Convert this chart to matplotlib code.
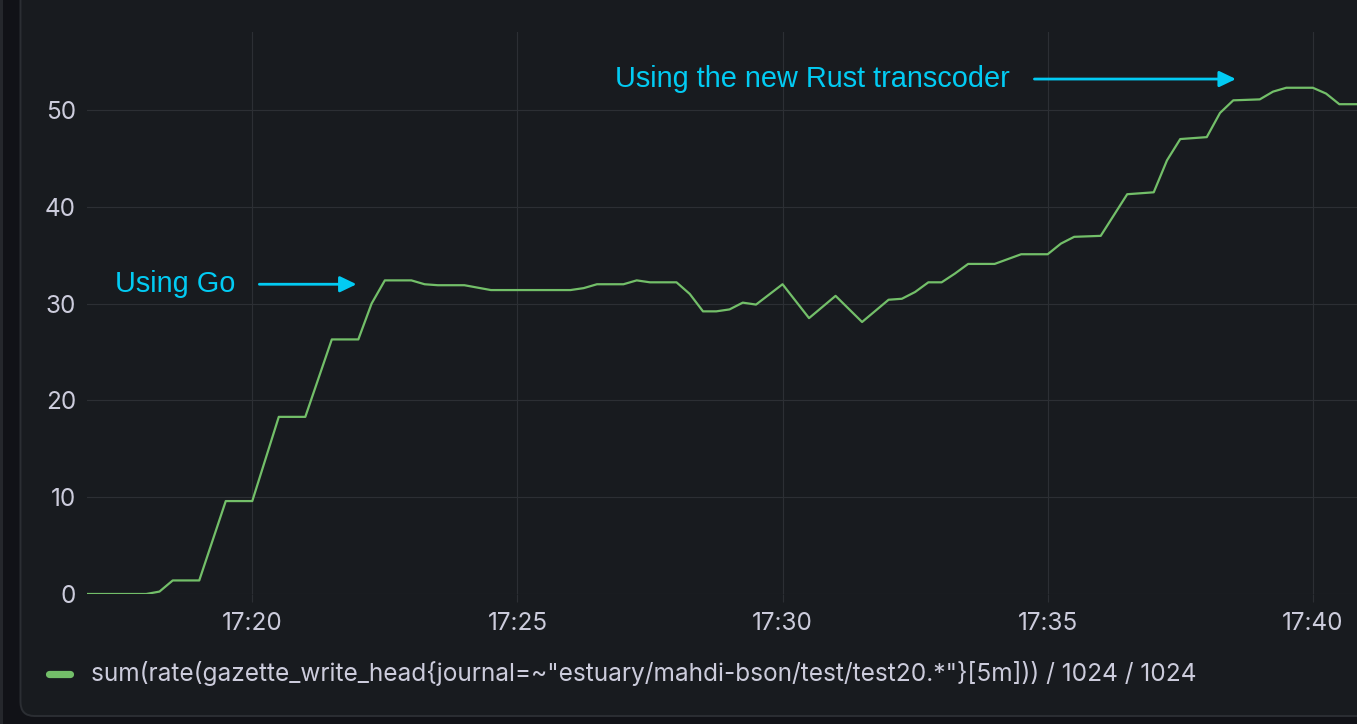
import matplotlib
matplotlib.use("Agg")
import matplotlib.pyplot as plt
import matplotlib.dates as mdates
import pandas as pd
from matplotlib.patches import FancyBboxPatch

# write throughput in MiB/s, vertices (15s step)
times = ["17:16:45", "17:18:00", "17:18:15", "17:18:30", "17:19:00", "17:19:30",
         "17:20:00", "17:20:30", "17:21:00", "17:21:30", "17:22:00", "17:22:15",
         "17:22:30", "17:23:00", "17:23:15", "17:23:30", "17:24:00", "17:24:30",
         "17:26:00", "17:26:15", "17:26:30", "17:27:00", "17:27:15", "17:27:30",
         "17:28:00", "17:28:15", "17:28:30", "17:28:45", "17:29:00", "17:29:15",
         "17:29:30", "17:30:00", "17:30:30", "17:31:00", "17:31:30", "17:32:00",
         "17:32:15", "17:32:30", "17:32:45", "17:33:00", "17:33:15", "17:33:30",
         "17:34:00", "17:34:30", "17:35:00", "17:35:15", "17:35:30", "17:36:00",
         "17:36:30", "17:37:00", "17:37:15", "17:37:30", "17:38:00", "17:38:15",
         "17:38:30", "17:39:00", "17:39:15", "17:39:30", "17:40:00", "17:40:15",
         "17:40:30", "17:41:00"]
values = [0, 0, 0.25, 1.4, 1.4, 9.6,
          9.6, 18.3, 18.3, 26.3, 26.3, 30.0,
          32.4, 32.4, 32.0, 31.9, 31.9, 31.4,
          31.4, 31.6, 32.0, 32.0, 32.4, 32.2,
          32.2, 31.0, 29.2, 29.2, 29.4, 30.1,
          29.9, 32.0, 28.5, 30.8, 28.1, 30.4,
          30.5, 31.2, 32.2, 32.2, 33.1, 34.1,
          34.1, 35.1, 35.1, 36.2, 36.9, 37.0,
          41.3, 41.5, 44.8, 47.0, 47.2, 49.7,
          51.0, 51.1, 51.9, 52.3, 52.3, 51.7,
          50.6, 50.6]
yticks = [0, 10, 20, 30, 40, 50]
legend_label = 'sum(rate(gazette_write_head{journal=~"estuary/mahdi-bson/test/test20.*"}[5m])) / 1024 / 1024'

# hand-drawn notes on the screenshot
notes = [
    {"text": "Using Go", "text_at": "17:17:25", "y": 32.0,
     "arrow_from": "17:20:08", "arrow_to": "17:21:58"},
    {"text": "Using the new Rust transcoder", "text_at": "17:26:50", "y": 53.2,
     "arrow_from": "17:34:45", "arrow_to": "17:38:33"},
]

day = "2024-01-01 "
def ts(t):
    return pd.to_datetime(day + t)

x = [ts(t) for t in times]

W, H = 1357, 724
fig = plt.figure(figsize=(W / 100, H / 100), dpi=100, facecolor="#111217")

# background layer in pixel coords (panel frame)
bg = fig.add_axes([0, 0, 1, 1])
bg.set_xlim(0, W)
bg.set_ylim(H, 0)
bg.axis("off")
bg.add_patch(plt.Rectangle((0, 0), 3, H, facecolor="#25272c", edgecolor="none"))
bg.add_patch(FancyBboxPatch((20.5, -40), W + 40, 756, boxstyle="round,pad=0,rounding_size=14",
                            facecolor="#181b1f", edgecolor="#2b2e33", linewidth=1.4))

green = "#73bf69"
text_col = "#ccccdc"
grid_col = "#2c2f34"
cyan = "#02cbf3"

ax = fig.add_axes([87 / W, (H - 594) / H, (W - 87) / W, (594 - 32) / H])
ax.set_facecolor("none")
ax.plot(x, values, color=green, linewidth=1.6, solid_joinstyle="round", clip_on=True)

ax.set_xlim(ts("17:16:53"), ts("17:40:50"))
ax.set_ylim(0, 58.06)
ax.set_yticks(yticks)
ax.xaxis.set_major_locator(mdates.MinuteLocator(byminute=range(0, 60, 5)))
ax.xaxis.set_major_formatter(mdates.DateFormatter("%H:%M"))

for s in ax.spines.values():
    s.set_visible(False)
ax.grid(True, color=grid_col, linewidth=0.8)
ax.set_axisbelow(True)
ax.tick_params(axis="x", length=6, width=0.8, color=grid_col, pad=7,
               labelsize=17.5, labelcolor=text_col)
ax.tick_params(axis="y", length=0, pad=8, labelsize=17.5, labelcolor=text_col)
for lab in ax.get_xticklabels() + ax.get_yticklabels():
    lab.set_fontfamily("Inter")

for n in notes:
    ax.text(ts(n["text_at"]), n["y"], n["text"], color=cyan, fontsize=20.8,
            family="Liberation Sans", va="center", ha="left", clip_on=False)
    ax.annotate("", xy=(ts(n["arrow_to"]), n["y"]), xytext=(ts(n["arrow_from"]), n["y"]),
                arrowprops=dict(arrowstyle="-|>,head_length=0.5,head_width=0.24",
                                mutation_scale=20, color=cyan, lw=2.0,
                                shrinkA=0, shrinkB=0), annotation_clip=False)

# legend (grafana style)
bg.plot([49, 70], [674, 674], color=green, linewidth=5.2, solid_capstyle="round")
bg.text(91, 674, legend_label, color=text_col, fontsize=17.6, family="Inter",
        va="center", ha="left")

fig.savefig("out.png", dpi=100, facecolor=fig.get_facecolor())
